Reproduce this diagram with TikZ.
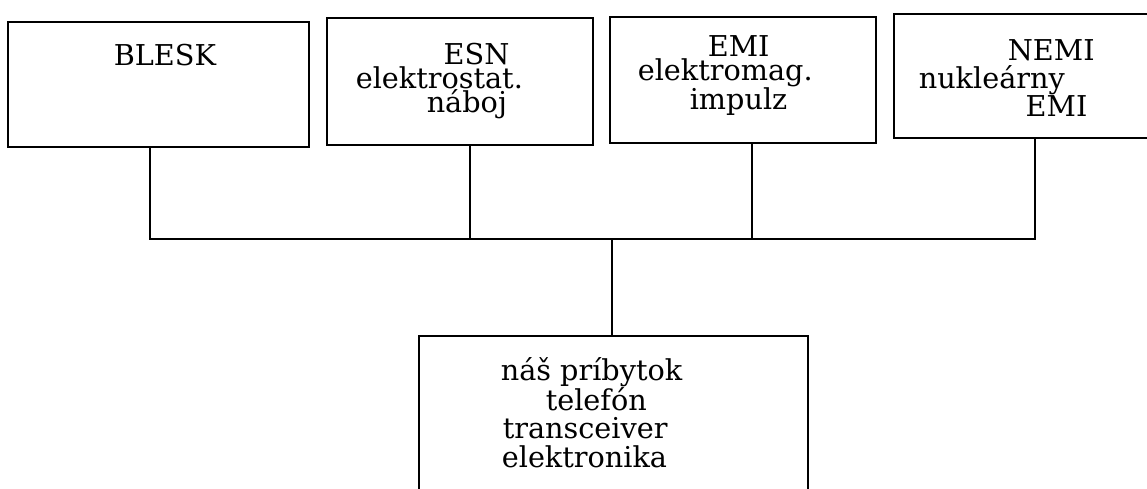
\documentclass[tikz,border=0pt]{standalone}
\usepackage{fontspec}
\setmainfont{DejaVu Serif}
\usepackage{tikz}
\usetikzlibrary{positioning}
\tikzset{
	every picture/.style={line width=1.3pt},
	blok/.style={draw, rectangle, inner sep=0, anchor=north west},
	napis/.style={inner sep=0, align=left, anchor=base west,
		font=\fontsize{24.5}{24}\selectfont},
	hustý/.style={font=\fontsize{24.5}{20.6}\selectfont}
}

\begin{document}
\begin{tikzpicture}[x=0.03cm, y=-0.03cm]
		\useasboundingbox (0,0) rectangle (1147,489);
		
		% zdroje ruseni
		\node[blok, minimum width=9.03cm, minimum height=3.75cm] (blesk) at (7,21) {};
		\node[blok, minimum width=7.98cm, minimum height=3.81cm] (esn) at (326,17) {};
		\node[blok, minimum width=7.98cm, minimum height=3.78cm] (emi) at (609,16) {};
		\node[blok, minimum width=8.16cm, minimum height=3.72cm] (nemi) at (893,13) {};
		\node[blok, minimum width=11.67cm, minimum height=5.55cm] (domov) at (418,335) {};
		
		% texty (kotva = uaklad posledneho riadku)
		\node[napis] (blesk-t) at (113,66) {BLESK};
		\node[napis, hustý] (esn-t) at (355,113) {\hspace*{75pt}ESN\\ elektrostat.\\ \hspace*{60.6pt}náboj};
		\node[napis, hustý] (emi-t) at (637,110) {\hspace*{59.8pt}EMI\\ elektromag.\\ \hspace*{44.4pt}impulz};
		\node[napis] (nemi-t) at (918,117) {\hspace*{76pt}NEMI\\ nukleárny\\ \hspace*{91.3pt}EMI};
		\node[napis] (domov-t) at (500,467) {náš príbytok\\ \hspace*{38.4pt}telefón\\ \hspace*{1.7pt}transceiver\\ \hspace*{0.9pt}elektronika};
		
		% zbernica
		\coordinate (z1) at (150,239);
		\coordinate (z2) at (470,239);
		\coordinate (z3) at (752,239);
		\coordinate (z4) at (1035,239);
		\coordinate (zs) at (612,239);
		
		\draw (blesk.south -| z1) -- (z1) -- (z4) -- (nemi.south -| z4);
		\draw (esn.south -| z2) -- (z2);
		\draw (emi.south -| z3) -- (z3);
		\draw (zs) -- (domov.north -| zs);
\end{tikzpicture}
\end{document}
